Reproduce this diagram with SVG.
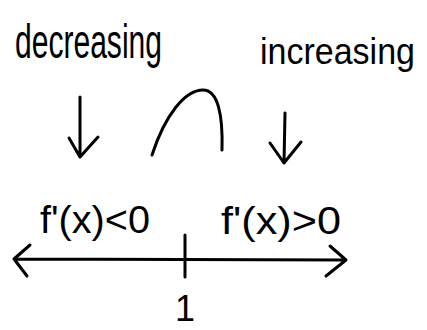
<svg xmlns="http://www.w3.org/2000/svg" width="427" height="330" viewBox="0 0 427 330">
<style>
.ln{fill:none;stroke:#000;stroke-width:3;stroke-linecap:round;stroke-linejoin:round}
.t{font-family:"Liberation Sans",Arial,sans-serif;fill:#000}
</style>
<rect width="427" height="330" fill="#fff"/>
<g id="label-decreasing"><text class="t" x="15" y="58" font-size="48" textLength="147" lengthAdjust="spacingAndGlyphs">decreasing</text></g>
<g id="label-increasing"><text class="t" x="260" y="64" font-size="36" textLength="155" lengthAdjust="spacingAndGlyphs">increasing</text></g>
<g id="label-neg"><text class="t" x="40" y="233" font-size="38" textLength="110" lengthAdjust="spacingAndGlyphs">f'(x)&lt;0</text></g>
<g id="label-pos"><text class="t" x="221" y="234" font-size="38" textLength="120" lengthAdjust="spacingAndGlyphs">f'(x)&gt;0</text></g>
<g id="label-one"><text class="t" x="185" y="321" font-size="36" text-anchor="middle">1</text></g>
<g id="connectors">
<path class="ln" d="M80,97 L80,157 M69,138 L80,157 L98,137"/>
<path class="ln" d="M285,113 L284,163 M270,143 L284,163 L301,142"/>
<path class="ln" d="M152,155 C165,115 185,90 203,90 C218,90 223,115 222,150"/>
<path class="ln" d="M14,259 L346,260 M30,245 L14,259 L27,276 M330,246 L346,260 L326,276"/>
<path class="ln" d="M185,235 L185,277"/>
</g>
</svg>
